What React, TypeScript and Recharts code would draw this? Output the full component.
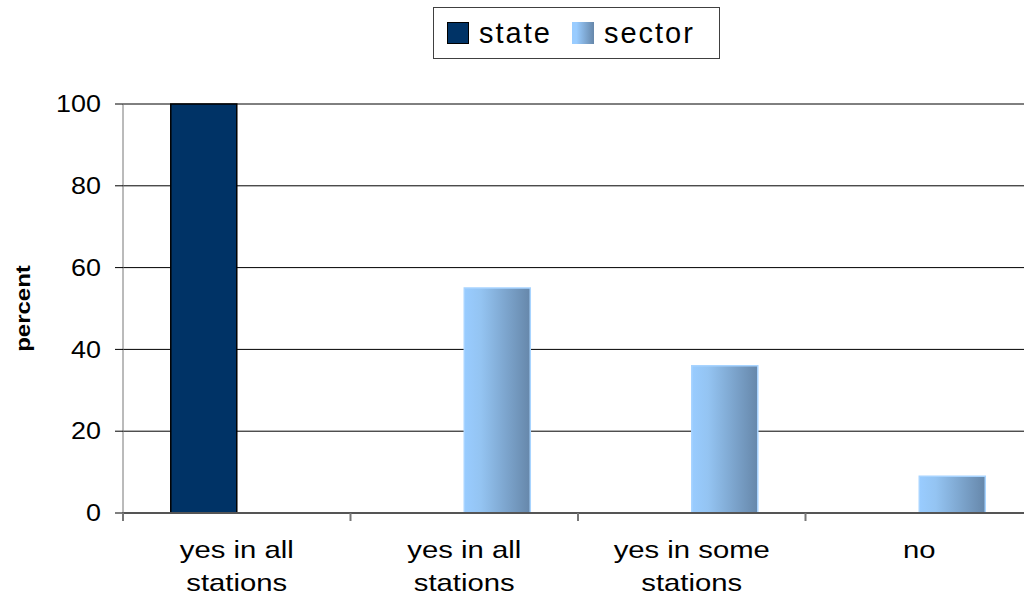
import { BarChart, Bar, XAxis, YAxis, CartesianGrid, Label } from "recharts";

const categories = ["yes in all stations", "yes in all stations", "yes in some stations", "no"];
const tickLines = [["yes in all", "stations"], ["yes in all", "stations"], ["yes in some", "stations"], ["no"]];
const state = [100, null, null, null];
const sector = [null, 55, 36, 9];
const yTicks = [0, 20, 40, 60, 80, 100];

const rows = categories.map((name, i) => ({ name, state: state[i], sector: sector[i] }));

const font = '"Liberation Sans", Arial, sans-serif';

const YTick = ({ x, y, payload }: any) => (
  <text
    transform={`translate(${x},${y}) scale(1.17,1)`}
    textAnchor="end"
    dominantBaseline="central"
    fontSize={23}
    fill="#000"
    fontFamily={font}
  >
    {payload.value}
  </text>
);

// category labels plus the tick marks that sit on the category edges
const XTick = ({ x, y, payload }: any) => {
  const lines = tickLines[payload.index] || [payload.value];
  const half = payload.offset || 0;
  return (
    <g>
      <line x1={x - half} x2={x - half} y1={y} y2={y + 8} stroke="#777" strokeWidth={2} />
      {lines.map((l: string, i: number) => (
        <text
          key={i}
          transform={`translate(${x},${y + 45 + i * 33}) scale(1.22,1)`}
          textAnchor="middle"
          fontSize={24}
          fill="#000"
          fontFamily={font}
        >
          {l}
        </text>
      ))}
    </g>
  );
};

const YLabel = ({ viewBox }: any) => (
  <text
    transform={`translate(${viewBox.x + 23},${viewBox.y + viewBox.height / 2}) rotate(-90) scale(1.2,1)`}
    textAnchor="middle"
    dominantBaseline="central"
    fontSize={20}
    fontWeight="bold"
    fill="#000"
    fontFamily={font}
  >
    percent
  </text>
);

export default function App() {
  return (
    <div
      style={{
        position: "absolute",
        left: 0,
        top: 0,
        width: 1024,
        height: 596,
        overflow: "hidden",
        background: "#fff",
        fontFamily: font,
      }}
    >
      <BarChart
        width={1040}
        height={596}
        data={rows}
        margin={{ top: 104, right: 7, bottom: 0, left: 0 }}
        barGap={0}
        barCategoryGap="21%"
      >
        <defs>
          <linearGradient id="sectorGrad" x1="0" y1="0" x2="1" y2="0">
            <stop offset="0" stopColor="#99CCFF" />
            <stop offset="0.25" stopColor="#94C4F2" />
            <stop offset="1" stopColor="#6687AA" />
          </linearGradient>
        </defs>
        <CartesianGrid vertical={false} stroke="#000" strokeWidth={1} />
        <XAxis
          dataKey="name"
          height={83}
          tickSize={0}
          tickMargin={0}
          tickLine={false}
          interval={0}
          tick={<XTick />}
          axisLine={{ stroke: "#555", strokeWidth: 2 }}
        />
        <YAxis
          width={123}
          domain={[0, 100]}
          ticks={yTicks}
          tickSize={8}
          tickMargin={14}
          tickLine={{ stroke: "#000" }}
          axisLine={{ stroke: "#777" }}
          tick={<YTick />}
        >
          <Label content={<YLabel />} position="insideLeft" />
        </YAxis>
        <Bar dataKey="state" fill="#003366" stroke="#000" strokeWidth={1.5} isAnimationActive={false} />
        <Bar dataKey="sector" fill="url(#sectorGrad)" stroke="#A8D4FF" strokeWidth={1.5} isAnimationActive={false} />
      </BarChart>
      <div
        style={{
          position: "absolute",
          left: 433,
          top: 7,
          width: 285,
          height: 50,
          border: "1px solid #404040",
          display: "flex",
          alignItems: "center",
          fontSize: 29,
          letterSpacing: 2,
          color: "#000",
          boxSizing: "content-box",
        }}
      >
        <span style={{ width: 20, height: 20, background: "#003366", border: "1.5px solid #000", marginLeft: 13, marginRight: 10 }} />
        <span>state</span>
        <span
          style={{
            width: 22,
            height: 22,
            background: "linear-gradient(to right, #99CCFF 20%, #6687AA)",
            marginLeft: 20,
            marginRight: 10,
          }}
        />
        <span>sector</span>
      </div>
    </div>
  );
}
